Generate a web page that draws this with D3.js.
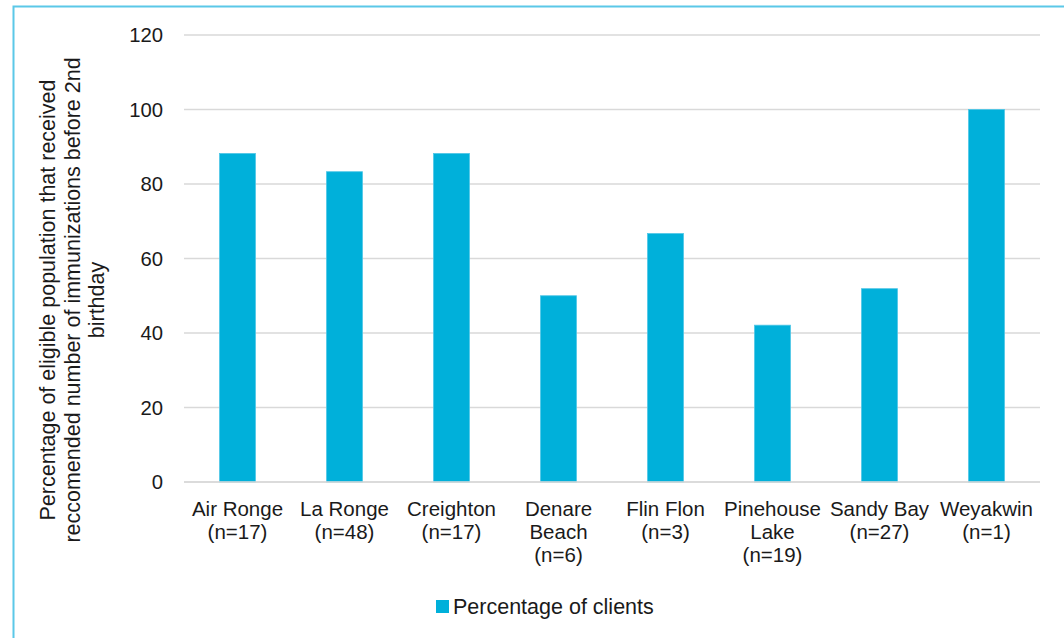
<!DOCTYPE html>
<html>
<head>
<meta charset="utf-8">
<script src="https://cdn.jsdelivr.net/npm/d3@7"></script>
<style>
  body { margin: 0; background: #fff; }
  svg { display: block; font-family: "Liberation Sans", Arial, sans-serif; }
</style>
</head>
<body>
<svg id="chart" width="1064" height="638"></svg>
<script>
// data
const categories = [
  ["Air Ronge", "(n=17)"],
  ["La Ronge", "(n=48)"],
  ["Creighton", "(n=17)"],
  ["Denare", "Beach", "(n=6)"],
  ["Flin Flon", "(n=3)"],
  ["Pinehouse", "Lake", "(n=19)"],
  ["Sandy Bay", "(n=27)"],
  ["Weyakwin", "(n=1)"]
];
const values = [88.2, 83.3, 88.2, 50, 66.7, 42.1, 51.9, 100];
const yTicks = [0, 20, 40, 60, 80, 100, 120];
const yTitle = [
  "Percentage of eligible population that received",
  "reccomended number of immunizations before 2nd",
  "birthday"
];
const seriesName = "Percentage of clients";

const svg = d3.select("#chart");
const barColor = "#00b0da";

// outer frame
svg.append("rect")
  .attr("x", 13.5).attr("y", 6.5)
  .attr("width", 1100).attr("height", 700)
  .attr("fill", "none")
  .attr("stroke", "#5bc8e8")
  .attr("stroke-width", 2);

const margin = { left: 184, right: 1040, top: 35, bottom: 482 };

const x = d3.scaleBand()
  .domain(d3.range(categories.length))
  .range([margin.left, margin.right])
  .paddingInner(0.664)
  .paddingOuter(0.332);

const y = d3.scaleLinear()
  .domain([0, 120])
  .range([margin.bottom, margin.top]);

// gridlines
svg.append("g")
  .selectAll("line")
  .data(yTicks)
  .join("line")
  .attr("x1", margin.left)
  .attr("x2", margin.right)
  .attr("y1", d => y(d))
  .attr("y2", d => y(d))
  .attr("stroke", "#d9d9d9")
  .attr("stroke-width", 1.5);

// y tick labels
svg.append("g")
  .selectAll("text")
  .data(yTicks)
  .join("text")
  .attr("x", 163)
  .attr("y", d => y(d))
  .attr("dy", "0.35em")
  .attr("text-anchor", "end")
  .attr("font-size", 20.3)
  .attr("fill", "#1a1a1a")
  .text(d => d);

// bars
svg.append("g")
  .selectAll("rect")
  .data(values)
  .join("rect")
  .attr("x", (d, i) => x(i))
  .attr("width", x.bandwidth())
  .attr("y", d => y(d))
  .attr("height", d => y(0) - y(d))
  .attr("fill", barColor)
  .attr("stroke", "#4fc6e6")
  .attr("stroke-width", 0.8);

// redraw baseline above bars
svg.append("line")
  .attr("x1", margin.left).attr("x2", margin.right)
  .attr("y1", y(0)).attr("y2", y(0))
  .attr("stroke", "#d9d9d9").attr("stroke-width", 1.5);

// category labels
const catG = svg.append("g")
  .selectAll("text")
  .data(categories)
  .join("text")
  .attr("x", (d, i) => x(i) + x.bandwidth() / 2)
  .attr("y", 516)
  .attr("text-anchor", "middle")
  .attr("font-size", 20.5)
  .attr("fill", "#1a1a1a");
catG.selectAll("tspan")
  .data(d => d)
  .join("tspan")
  .attr("x", function () { return this.parentNode.getAttribute("x"); })
  .attr("dy", (d, i) => i === 0 ? 0 : 23)
  .text(d => d);

// y title
const yt = svg.append("text")
  .attr("transform", "translate(55,300) rotate(-90)")
  .attr("text-anchor", "middle")
  .attr("font-size", 21.5)
  .attr("fill", "#1a1a1a");
yt.selectAll("tspan")
  .data(yTitle)
  .join("tspan")
  .attr("x", 0)
  .attr("dy", (d, i) => i === 0 ? 0 : 24.5)
  .text(d => d);

// legend
const lg = svg.append("g").attr("transform", "translate(436,600)");
lg.append("rect")
  .attr("width", 13).attr("height", 13)
  .attr("fill", barColor);
lg.append("text")
  .attr("x", 17).attr("y", 14)
  .attr("font-size", 21.5)
  .attr("fill", "#1a1a1a")
  .text(seriesName);
</script>
</body>
</html>
